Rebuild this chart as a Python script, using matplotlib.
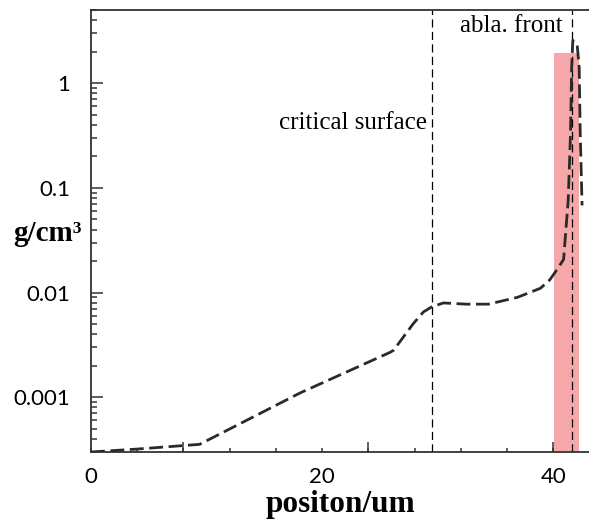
import matplotlib
matplotlib.use('agg')
import matplotlib.pyplot as plt
from matplotlib.ticker import FixedLocator, NullFormatter

# density profile (position in um, density in g/cm^3)
pos = [0.0, 4.0, 9.4, 18.1, 25.9, 26.2, 27.04, 27.9, 28.77, 29.49, 30.5,
       32.5, 34.4, 36.9, 38.9, 39.7, 40.2, 40.9, 41.3, 41.5, 41.6, 41.7,
       42.08, 42.25, 42.34, 42.5]
dens = [3.0e-4, 3.2e-4, 3.55e-4, 1.1e-3, 2.69e-3, 2.82e-3, 3.77e-3, 5.06e-3,
        6.53e-3, 7.3e-3, 7.96e-3, 7.75e-3, 7.75e-3, 9.0e-3, 1.1e-2, 1.32e-2,
        1.58e-2, 2.07e-2, 7.6e-2, 0.33, 1.42, 2.57, 2.3, 1.42, 0.33, 0.068]

crit_x = 29.52        # critical surface
abla_x = 41.6         # ablation front
band = (40.1, 42.25)  # shaded region
band_top = 1.93

ytick_vals = [1e-3, 1e-2, 1e-1, 1]
ytick_labels = ['0.001', '0.01', '0.1', '1']
xtick_vals = [0, 20, 40]

fig = plt.figure(figsize=(5.89, 5.19), dpi=100)
ax = fig.add_axes([0.1545, 0.1291, 0.8455, 0.8516])

ax.fill_between(band, [band_top, band_top], 1e-6, color='#f5a7a9', lw=0, zorder=1)
ax.axvline(crit_x, color='black', lw=0.9, dashes=(6.5, 3.5), zorder=2)
ax.axvline(abla_x, color='black', lw=0.9, dashes=(6.5, 3.5), zorder=2)
ax.plot(pos, dens, color='#2a2a2a', lw=2.0, dashes=(5.0, 2.0), zorder=3)

ax.set_yscale('log')
ax.set_xlim(0, 43.1)
ax.set_ylim(3e-4, 5)

serif = 'Liberation Serif'
ax.text(29.1, 0.415, 'critical surface', family=serif, fontsize=18,
        ha='right', va='center')
ax.text(40.8, 3.55, 'abla. front', family=serif, fontsize=18,
        ha='right', va='center')

# y axis
ax.yaxis.set_major_locator(FixedLocator(ytick_vals))
ax.set_yticklabels(ytick_labels, family='Lato', fontsize=16)
ax.yaxis.set_minor_locator(FixedLocator(
    [m * 10.0 ** e for e in range(-4, 1) for m in range(2, 10)]))
ax.yaxis.set_minor_formatter(NullFormatter())
ax.tick_params(axis='y', which='major', direction='in', length=8.6, width=1.1,
               pad=15, color='#333333')
ax.tick_params(axis='y', which='minor', direction='in', length=4.3, width=1.1,
               color='#333333')

# x axis: labelled ticks short, long ticks on a twin axis
ax.set_xticks(xtick_vals)
ax.set_xticklabels([str(v) for v in xtick_vals], family='Lato', fontsize=16)
ax.xaxis.set_minor_locator(FixedLocator([4, 8, 12, 16, 24, 28, 32, 36]))
ax.tick_params(axis='x', which='both', direction='in', length=3, width=1.1,
               pad=11, color='#333333')
sec = ax.secondary_xaxis('bottom')
sec.set_xticks([8, 24, 40])
sec.set_xticklabels([])
sec.tick_params(direction='in', length=7, width=1.1, color='#333333')
sec.spines['bottom'].set_visible(False)

ax.set_xlabel('positon/um', family=serif, fontweight='bold', fontsize=22.5,
              labelpad=2)
ax.set_ylabel('g/cm³', family=serif, fontweight='bold', fontsize=21,
              rotation=0, ha='right', va='center')
ax.yaxis.set_label_coords(-0.018, 0.495)

for side in ['left', 'bottom', 'top']:
    ax.spines[side].set_linewidth(1.3)
    ax.spines[side].set_color('#333333')
ax.spines['right'].set_visible(False)

fig.savefig('out.png', dpi=100)
